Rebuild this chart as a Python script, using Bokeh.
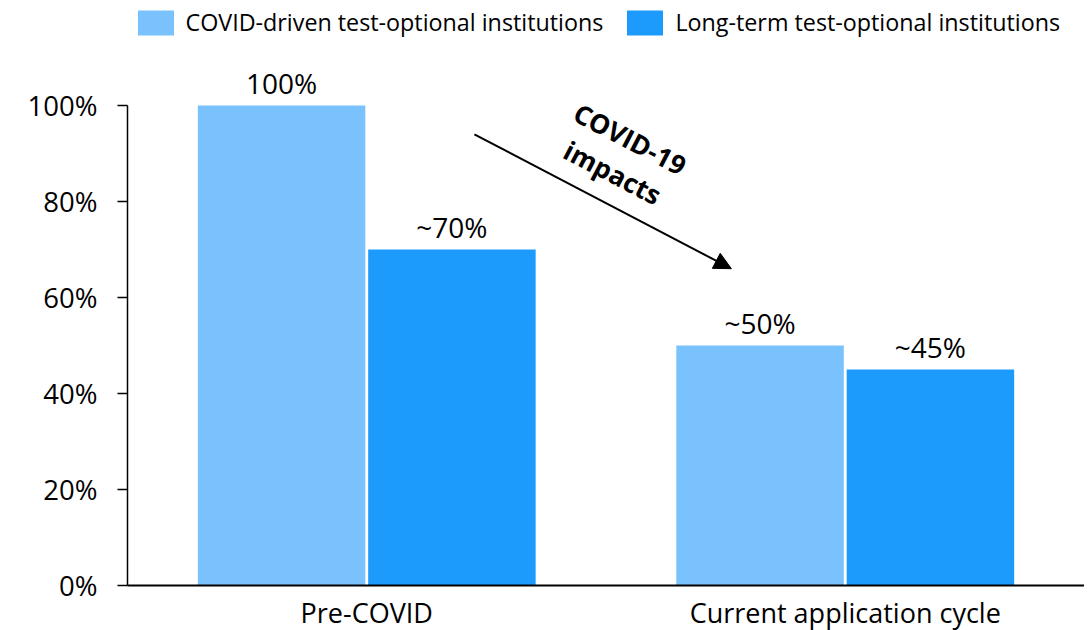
from bokeh.plotting import figure
from bokeh.models import (ColumnDataSource, FixedTicker, PrintfTickFormatter, LabelSet,
                          Label, Arrow, NormalHead, Legend, LegendItem)
from bokeh.core.properties import value
from bokeh.embed import file_html
from bokeh.resources import INLINE

categories = ["Pre-COVID", "Current application cycle"]
cat_pos = [1, 2]
series_names = ["COVID-driven test-optional institutions", "Long-term test-optional institutions"]
covid_driven = [100, 50]
long_term = [70, 45]
covid_driven_labels = ["100%", "~50%"]
long_term_labels = ["~70%", "~45%"]
y_ticks = [0, 20, 40, 60, 80, 100]

LIGHT = "#79C2FD"
DARK = "#1D9BFD"
FONT = "Open Sans"
OFF = 0.178
BW = 0.35

p = figure(frame_width=957, frame_height=585, x_range=(0.5, 2.5), y_range=(0, 121.875),
           output_backend="svg", toolbar_location=None,
           min_border_left=127, min_border_right=0, min_border_top=0, min_border_bottom=30)
p.outline_line_color = None
p.xgrid.grid_line_color = None
p.ygrid.grid_line_color = None
p.background_fill_color = "white"

src1 = ColumnDataSource(dict(x=[c - OFF for c in cat_pos], top=covid_driven, lab=covid_driven_labels))
src2 = ColumnDataSource(dict(x=[c + OFF for c in cat_pos], top=long_term, lab=long_term_labels))

r1 = p.vbar(x="x", top="top", width=BW, source=src1, fill_color=LIGHT, line_color=None)
r2 = p.vbar(x="x", top="top", width=BW, source=src2, fill_color=DARK, line_color=None)

for src in (src1, src2):
    ls = LabelSet(x="x", y="top", text="lab", source=src, text_align="center",
                  text_baseline="bottom", y_offset=4, text_font=value(FONT),
                  text_font_size="28px", text_color="black")
    p.add_layout(ls)

# axes
p.yaxis.ticker = FixedTicker(ticks=y_ticks)
p.yaxis.formatter = PrintfTickFormatter(format="%d%%")
p.yaxis.bounds = (0, 100)
p.yaxis.major_label_text_font = FONT
p.yaxis.major_label_text_font_size = "27.5px"
p.yaxis.major_label_text_color = "black"
p.yaxis.major_tick_out = 10
p.yaxis.major_tick_in = 0
p.yaxis.minor_tick_line_color = None
p.yaxis.axis_line_width = 1.5
p.yaxis.major_tick_line_width = 1.5
p.yaxis.axis_line_color = "black"
p.yaxis.major_tick_line_color = "black"
p.yaxis.major_label_standoff = 20

p.xaxis.ticker = FixedTicker(ticks=cat_pos)
p.xaxis.major_label_overrides = {c: n for c, n in zip(cat_pos, categories)}
p.xaxis.major_label_text_font = FONT
p.xaxis.major_label_text_font_size = "27px"
p.xaxis.major_label_text_color = "black"
p.xaxis.major_tick_line_color = None
p.xaxis.minor_tick_line_color = None
p.xaxis.axis_line_width = 2
p.xaxis.axis_line_color = "black"
p.xaxis.major_label_standoff = 2

# arrow annotation
p.add_layout(Arrow(x_start=1.225, y_start=94.0, x_end=1.762, y_end=66.0,
                   line_width=2, line_color="black",
                   end=NormalHead(size=17, fill_color="black", line_color="black")))
p.add_layout(Label(x=1.532, y=89.5, text="COVID-19\nimpacts", angle=-27.5, angle_units="deg",
                   text_align="center", text_baseline="middle", text_font=FONT,
                   text_font_style="bold", text_font_size="26.5px", text_color="black",
                   text_line_height=1.05))

legend = Legend(items=[LegendItem(label=series_names[0], renderers=[r1]),
                       LegendItem(label=series_names[1], renderers=[r2])],
                orientation="horizontal", location=(5.5, 547),
                glyph_width=45, glyph_height=31, label_height=31,
                label_standoff=8, spacing=19, padding=1, margin=0,
                label_text_font=FONT, label_text_font_size="23.3px",
                label_text_color="black", border_line_color=None,
                background_fill_alpha=0)
p.add_layout(legend)

open("out.html", "w").write(file_html(p, INLINE))
